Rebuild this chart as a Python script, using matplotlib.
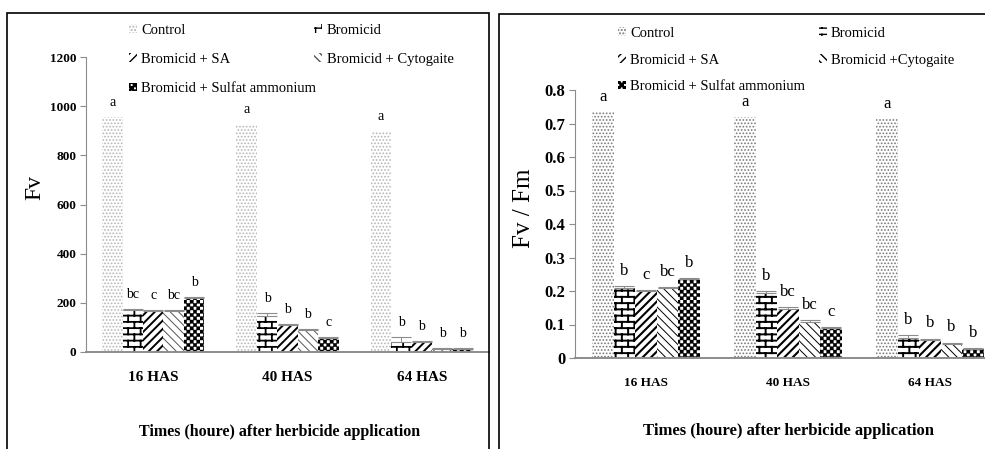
import warnings

import matplotlib
matplotlib.use("Agg")
import matplotlib.pyplot as plt
import numpy as np
from matplotlib import hatch as mhatch
from matplotlib.patches import Rectangle
from matplotlib.path import Path

warnings.filterwarnings("ignore")

plt.rcParams["font.family"] = ["Liberation Serif", "DejaVu Serif"]

# ---------------------------------------------------------------- data
GROUPS = ["16 HAS", "40 HAS", "64 HAS"]

LABELS_FV = ["Control", "Bromicid", "Bromicid + SA",
             "Bromicid + Cytogaite", "Bromicid + Sulfat ammonium"]
LABELS_FVFM = ["Control", "Bromicid", "Bromicid + SA",
               "Bromicid +Cytogaite", "Bromicid + Sulfat ammonium"]

FV_CONTROL  = [955, 925, 900]
FV_BROMICID = [172, 148, 42]
FV_SA       = [166, 110, 42]
FV_CYTO     = [166, 90, 14]
FV_SULFAT   = [218, 58, 12]

FV_ERR_BROMICID = [4, 9, 18]
FV_ERR_SA       = [3, 3, 3]
FV_ERR_CYTO     = [3, 3, 3]
FV_ERR_SULFAT   = [4, 3, 3]

FV_LETTERS = [["a", "a", "a"], ["bc", "b", "b"], ["c", "b", "b"],
              ["bc", "b", "b"], ["b", "c", "b"]]

FVFM_CONTROL  = [0.733, 0.720, 0.712]
FVFM_BROMICID = [0.210, 0.193, 0.060]
FVFM_SA       = [0.200, 0.147, 0.055]
FVFM_CYTO     = [0.210, 0.108, 0.043]
FVFM_SULFAT   = [0.235, 0.090, 0.027]

FVFM_ERR_BROMICID = [0.004, 0.006, 0.008]
FVFM_ERR_SA       = [0.003, 0.004, 0.003]
FVFM_ERR_CYTO     = [0.003, 0.004, 0.003]
FVFM_ERR_SULFAT   = [0.003, 0.003, 0.002]

FVFM_LETTERS = [["a", "a", "a"], ["b", "b", "b"], ["c", "bc", "b"],
                ["bc", "bc", "b"], ["b", "c", "b"]]


# ---------------------------------------------------------------- custom hatches
class BrickHatch(mhatch.HatchPatternBase):
    """'B' -> brick wall."""

    def __init__(self, hatch, density):
        n = hatch.count("B")
        self.rows = 16 * n
        self.per_row = self.rows // 2
        if n == 0:
            self.num_vertices = 0
        else:
            self.num_vertices = 2 * self.rows + 2 * (self.rows + 1) * self.per_row

    def set_vertices_and_codes(self, vertices, codes):
        h = 1.0 / self.rows
        w = 1.0 / self.per_row
        pts = []
        for i in range(self.rows):
            y = (i + 0.5) * h
            pts += [(0.0, y), (1.0, y)]
        for i in range(-1, self.rows):
            y0 = (i + 0.5) * h
            shift = 0.5 * w * (i % 2)
            for k in range(self.per_row):
                x = (k + 0.25) * w + shift
                pts += [(x, y0), (x, y0 + h)]
        vertices[:] = np.array(pts)
        codes[0::2] = Path.MOVETO
        codes[1::2] = Path.LINETO


class CheckerHatch(mhatch.HatchPatternBase):
    """'C' -> filled checkerboard."""

    def __init__(self, hatch, density):
        n = hatch.count("C")
        self.cells = 30 * n
        self.num_vertices = 0 if n == 0 else 5 * (self.cells * self.cells // 2)

    def set_vertices_and_codes(self, vertices, codes):
        c = 1.0 / self.cells
        pts = []
        for i in range(self.cells):
            for j in range(self.cells):
                if (i + j) % 2 == 0:
                    x, y = j * c, i * c
                    pts += [(x, y), (x + c, y), (x + c, y + c), (x, y + c), (x, y)]
        vertices[:] = np.array(pts)
        codes[0::5] = Path.MOVETO
        codes[1::5] = Path.LINETO
        codes[2::5] = Path.LINETO
        codes[3::5] = Path.LINETO
        codes[4::5] = Path.CLOSEPOLY


mhatch._hatch_types.extend([BrickHatch, CheckerHatch])


# ---------------------------------------------------------------- drawing
W = 0.152
OFFSETS = [-2 * W, -W, 0, W, 2 * W]


def draw_panel(ax, values, errors, letters, styles, labels, letter_size):
    x = np.arange(len(GROUPS))
    handles = []
    for vals, errs, lets, (hatch, hcol, hlw), lab, off in zip(
            values, errors, letters, styles, labels, OFFSETS):
        with plt.rc_context({"hatch.linewidth": hlw}):
            bars = ax.bar(x + off, vals, W, color="white", edgecolor=hcol,
                          linewidth=0, hatch=hatch, label=lab, zorder=2)
        for b in bars:
            if hasattr(b, "set_hatch_linewidth"):
                b.set_hatch_linewidth(hlw)
        if errs is None:
            errs = [0] * len(vals)
        else:
            ax.errorbar(x + off, vals, yerr=[np.zeros(len(vals)), errs],
                        fmt="none", ecolor="#8c8c8c", elinewidth=0.7,
                        capsize=7, capthick=0.8, zorder=3)
        handles.append(bars)
        for xi, v, e, t in zip(x + off, vals, errs, lets):
            ax.annotate(t, (xi, v + e), xytext=(0, 8), textcoords="offset points",
                        ha="center", va="baseline", fontsize=letter_size)
    ax.set_xlim(-0.5, len(GROUPS) - 0.5)
    for s in ("top", "right"):
        ax.spines[s].set_visible(False)
    ax.spines["left"].set_color("#8c8c8c")
    ax.spines["left"].set_linewidth(0.8)
    ax.spines["bottom"].set_color("#8c8c8c")
    ax.spines["bottom"].set_linewidth(1.4)
    ax.tick_params(axis="y", direction="out", length=4, width=0.8,
                   color="#8c8c8c", pad=3)
    return handles


fig = plt.figure(figsize=(9.85, 4.49), dpi=100)
H = 449.0
FW = 985.0

# panel frames
fig.add_artist(Rectangle((7 / FW, -0.2), (489 - 7) / FW, 1.2 - 13 / H,
                         transform=fig.transFigure, fill=False,
                         edgecolor="black", linewidth=1.2))
fig.add_artist(Rectangle((499 / FW, -0.2), 1.0, 1.2 - 14 / H,
                         transform=fig.transFigure, fill=False,
                         edgecolor="black", linewidth=1.2))

order = [0, 2, 4, 1, 3]

# ---- left panel: Fv
ax1 = fig.add_axes([86 / FW, (H - 352) / H, 403 / FW, 295 / H])
styles1 = [(".....", "#b5b5b5", 0.8), ("B", "black", 1.3), ("////", "black", 1.4),
           ("\\\\\\\\", "#555555", 0.7), ("C", "black", 0.3)]
h1 = draw_panel(ax1,
                [FV_CONTROL, FV_BROMICID, FV_SA, FV_CYTO, FV_SULFAT],
                [None, FV_ERR_BROMICID, FV_ERR_SA, FV_ERR_CYTO, FV_ERR_SULFAT],
                FV_LETTERS, styles1, LABELS_FV, 10)
ax1.set_ylim(0, 1200)
ax1.set_yticks(np.arange(0, 1201, 200),
               labels=[str(v) for v in range(0, 1201, 200)],
               fontsize=9.5, fontweight="bold")
ax1.set_xticks(np.arange(3), labels=GROUPS, fontsize=11, fontweight="bold")
ax1.tick_params(axis="x", length=0, pad=14)
ax1.set_ylabel("Fv", fontsize=17)
ax1.yaxis.set_label_coords(-0.102, 0.559)
ax1.set_xlabel("Times (houre) after herbicide application", fontsize=11.5,
               fontweight="bold")
ax1.xaxis.set_label_coords(0.481, -0.244)
ax1.legend([h1[i] for i in order], [LABELS_FV[i] for i in order], ncol=2,
           loc="upper left", bbox_to_anchor=(129 / FW, 1 - 24 / H),
           bbox_transform=fig.transFigure, frameon=False, fontsize=10.5,
           handlelength=0.55, handleheight=0.55, handletextpad=0.3,
           columnspacing=-0.15, labelspacing=1.1, borderpad=0, borderaxespad=0)

# ---- right panel: Fv / Fm
ax2 = fig.add_axes([575 / FW, (H - 358) / H, 426 / FW, 268 / H])
styles2 = [(".....", "#7a7a7a", 0.8), ("B", "black", 1.4), ("////", "black", 1.5),
           ("\\\\\\\\", "black", 0.7), ("C", "black", 0.3)]
h2 = draw_panel(ax2,
                [FVFM_CONTROL, FVFM_BROMICID, FVFM_SA, FVFM_CYTO, FVFM_SULFAT],
                [None, FVFM_ERR_BROMICID, FVFM_ERR_SA, FVFM_ERR_CYTO,
                 FVFM_ERR_SULFAT],
                FVFM_LETTERS, styles2, LABELS_FVFM, 12)
ax2.set_ylim(0, 0.8)
yt = np.round(np.arange(0, 0.81, 0.1), 1)
ax2.set_yticks(yt, labels=["0"] + [f"{v:.1f}" for v in yt[1:]],
               fontsize=12, fontweight="bold")
ax2.set_xticks(np.arange(3), labels=GROUPS, fontsize=9.5, fontweight="bold")
ax2.tick_params(axis="x", length=0, pad=14)
ax2.set_ylabel("Fv / Fm", fontsize=18)
ax2.yaxis.set_label_coords(-0.094, 0.56)
ax2.set_xlabel("Times (houre) after herbicide application", fontsize=12,
               fontweight="bold")
ax2.xaxis.set_label_coords(0.502, -0.243)
ax2.legend([h2[i] for i in order], [LABELS_FVFM[i] for i in order], ncol=2,
           loc="upper left", bbox_to_anchor=(618 / FW, 1 - 27 / H),
           bbox_transform=fig.transFigure, frameon=False, fontsize=10.5,
           handlelength=0.55, handleheight=0.55, handletextpad=0.3,
           columnspacing=0.9, labelspacing=0.93, borderpad=0, borderaxespad=0)

fig.savefig("out.png", dpi=100)
